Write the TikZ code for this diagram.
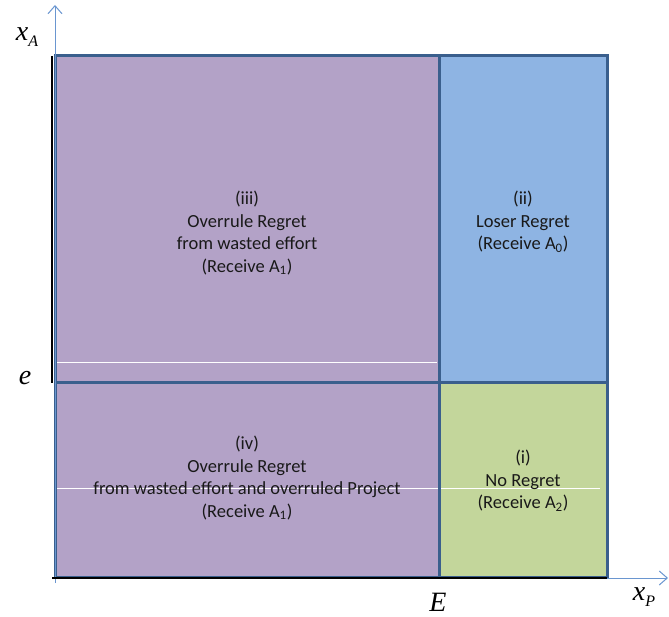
\documentclass[tikz,border=0pt]{standalone}
\usepackage{fontspec}
\setmainfont{Carlito}
\newfontfamily\mathlike{Liberation Serif}
\usetikzlibrary{arrows.meta}
\definecolor{cpurple}{HTML}{B3A2C7}
\definecolor{cblue}{HTML}{8EB4E3}
\definecolor{cgreen}{HTML}{C3D69B}
\definecolor{cborder}{HTML}{3A5F8D}
\definecolor{caxis}{HTML}{6A96D0}
\tikzset{
  region/.style={draw=cborder, line width=3pt},
  lbl/.style={align=center, font=\fontsize{18.5}{22.5}\selectfont, text=black!90},
  axlbl/.style={inner sep=0.5pt, font=\fontsize{28}{32}\selectfont\mathlike\itshape},
  axisline/.style={draw=caxis, line width=1pt, -{Straight Barb[length=8pt,width=14pt]}},
  wline/.style={draw=white, line width=1pt}
}
\begin{document}
\begin{tikzpicture}[x=1pt,y=1pt]
\useasboundingbox (0,0) rectangle (669,616);
% regions
\fill[cpurple] (55,233) rectangle (439,560);
\fill[cblue] (439,233) rectangle (607,560);
\fill[cpurple] (55,39) rectangle (439,233);
\fill[cgreen] (439,39) rectangle (607,233);
% white lines
\draw[wline] (57,253) -- (437,253);
\draw[wline] (57,128) -- (600,128);
% borders
\draw[region] (55,39) rectangle (607,560);
\draw[region] (439,39) -- (439,560);
\draw[region] (55,233) -- (607,233);
% axes
\coordinate (o) at (55,33);
\coordinate (ytop) at (55,611);
\coordinate (xo) at (600,38);
\coordinate (xend) at (668,38);
\draw[axisline] (o) -- (ytop);
\draw[axisline] (xo) -- (xend);
\draw[black, line width=1.5pt] (52,560) -- (52,233);
\draw[black, line width=1.5pt] (52,38) -- (607,38);
% labels
\node[lbl] (iii) at (247,383) {(iii)\\Overrule Regret\\from wasted effort\\(Receive A\textsubscript{1})};
\node[lbl] (ii) at (523,394) {(ii)\\Loser Regret\\(Receive A\textsubscript{0})};
\node[lbl] (iv) at (247,138) {(iv)\\Overrule Regret\\from wasted effort and overruled Project\\(Receive A\textsubscript{1})};
\node[lbl] (i) at (523,135) {(i)\\No Regret\\(Receive A\textsubscript{2})};
\node[axlbl] (xA) at (27,579) {x\raisebox{-6pt}{\fontsize{16}{18}\selectfont A}};
\node[axlbl] (e) at (25,238) {e};
\node[axlbl] (E) at (438,14) {E};
\node[axlbl] (xP) at (644,19) {x\raisebox{-6pt}{\fontsize{16}{18}\selectfont P}};
\end{tikzpicture}
\end{document}
